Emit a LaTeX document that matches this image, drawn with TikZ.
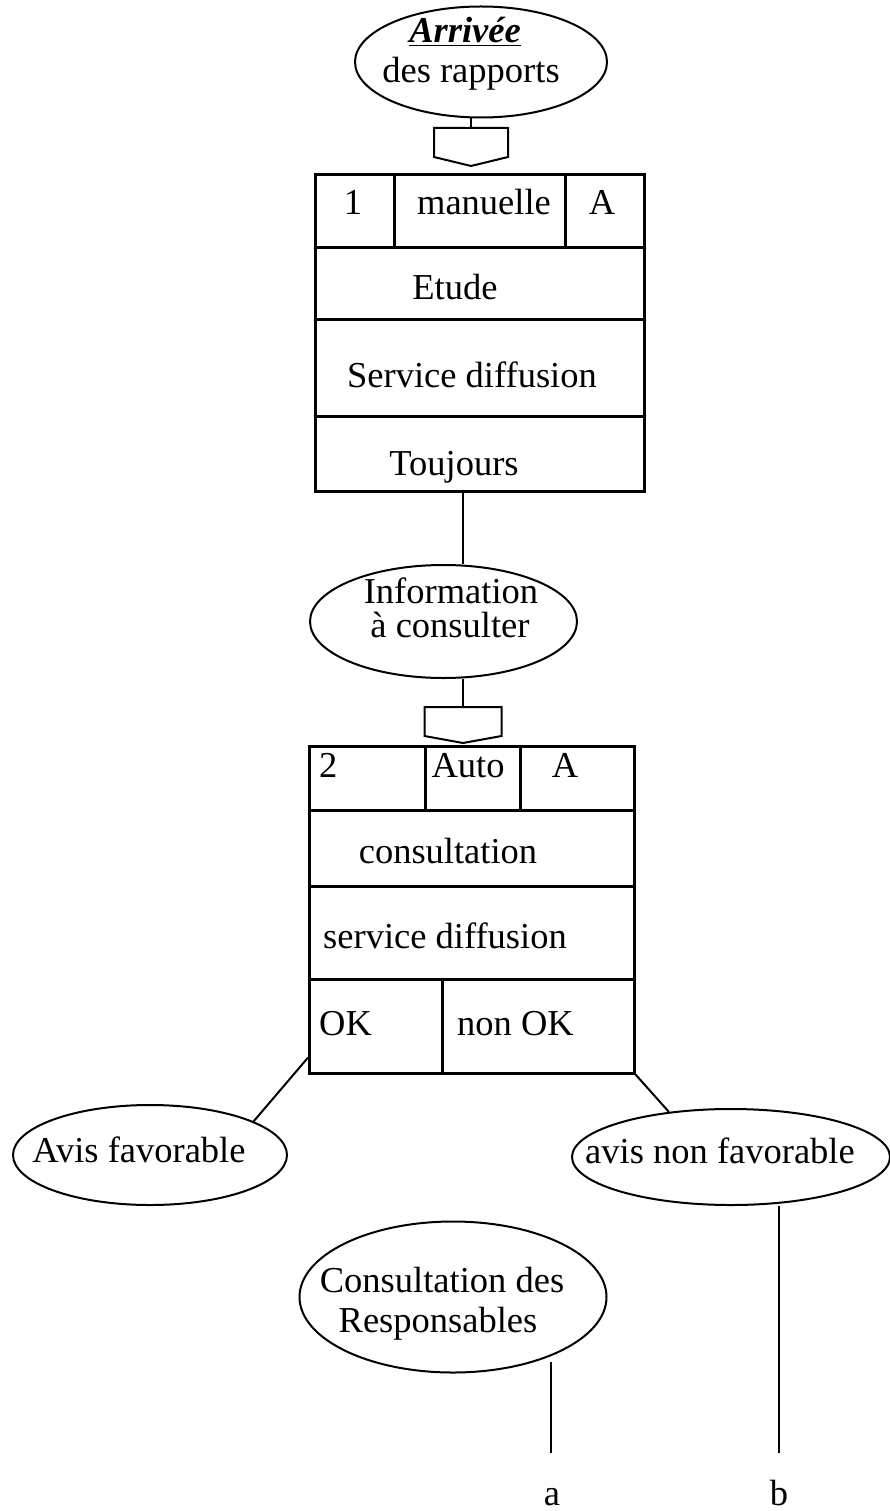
\documentclass[tikz,border=0pt]{standalone}
\usepackage{fontspec}
\setmainfont{Liberation Serif}
\usetikzlibrary{shapes.geometric}
\newcommand\diagfont{\fontsize{36.5}{40}\selectfont}
\begin{document}
\begin{tikzpicture}[x=1pt,y=-1pt,
  cell/.style={draw, line width=2.6pt, inner sep=0pt, anchor=north west},
  txt/.style={font=\diagfont, inner sep=0pt, anchor=base},
  ltxt/.style={txt, anchor=base west},
  lbl/.style={txt, text height=25pt, text depth=0pt, inner ysep=27pt},
  etat/.style={draw, ellipse, line width=2pt, inner sep=0pt},
  link/.style={line width=2pt},
  tab/.style={line width=2pt, line join=miter}]
\useasboundingbox (0,0) rectangle (890,1511);

% ---- event: arrival of the reports
\node[etat, minimum width=252pt, minimum height=111pt] (arr) at (481,62) {};
\node[txt] (arr1) at (465,43) {\underline{\bfseries\itshape Arrivée}};
\node[txt] (arr2) at (471,83) {des rapports};

% synchronisation tab of operation 1
\coordinate (t1) at (471,128);
\draw[tab] (t1) ++(-37,0) -- ++(0,29) -- ++(37,9) -- ++(37,-9) -- ++(0,-29) -- cycle;

% ---- operation 1
\node[cell, minimum width=79pt,  minimum height=73pt] (c1n) at (314,173) {};
\node[cell, minimum width=171pt, minimum height=73pt] (c1m) at (393,173) {};
\node[cell, minimum width=79pt,  minimum height=73pt] (c1a) at (564,173) {};
\node[cell, minimum width=329pt, minimum height=72pt] (c1e) at (314,246) {};
\node[cell, minimum width=329pt, minimum height=97pt] (c1s) at (314,318) {};
\node[cell, minimum width=329pt, minimum height=75pt] (c1t) at (314,415) {};

\node[txt] (x1n) at (353,215) {1};
\node[txt] (x1m) at (484,215) {manuelle};
\node[txt] (x1a) at (602,215) {A};
\node[txt] (x1e) at (455,300) {Etude};
\node[txt] (x1s) at (472,387) {Service diffusion};
\node[txt] (x1t) at (454,475) {Toujours};

% ---- event: information to consult
\node[etat, minimum width=267pt, minimum height=113pt] (info) at (443.5,621.5) {};
\node[txt] (info1) at (451,603) {Information};
\node[txt] (info2) at (450,637) {à consulter};

% synchronisation tab of operation 2
\coordinate (t2) at (463,707);
\draw[tab] (t2) ++(-38.5,0) -- ++(0,29) -- ++(38.5,7) -- ++(38.5,-7) -- ++(0,-29) -- cycle;

% ---- operation 2
\node[cell, minimum width=116pt, minimum height=64pt] (c2n) at (308,745) {};
\node[cell, minimum width=95pt,  minimum height=64pt] (c2m) at (424,745) {};
\node[cell, minimum width=114pt, minimum height=64pt] (c2a) at (519,745) {};
\node[cell, minimum width=325pt, minimum height=76pt] (c2e) at (308,809) {};
\node[cell, minimum width=325pt, minimum height=93pt] (c2s) at (308,885) {};
\node[cell, minimum width=133pt, minimum height=94pt] (c2ok) at (308,978) {};
\node[cell, minimum width=192pt, minimum height=94pt] (c2nok) at (441,978) {};

\node[ltxt] (x2n) at (319,777) {2};
\node[txt] (x2m) at (468,777) {Auto};
\node[txt] (x2a) at (565,777) {A};
\node[txt] (x2e) at (448,863) {consultation};
\node[ltxt] (x2s) at (323,948) {service diffusion};
\node[ltxt] (x2ok) at (319,1035) {OK};
\node[ltxt] (x2nok) at (457,1035) {non OK};

% ---- resulting events
\node[etat, minimum width=274pt, minimum height=100pt] (fav) at (150,1155) {};
\node[txt] (fav1) at (139,1162) {Avis favorable};
\node[etat, minimum width=318pt, minimum height=96pt] (nfav) at (731,1157) {};
\node[txt] (nfav1) at (720,1163) {avis non favorable};
\node[etat, minimum width=307pt, minimum height=151pt] (cons) at (453,1297) {};
\node[txt] (cons1) at (442,1292) {Consultation des};
\node[txt] (cons2) at (438,1332) {Responsables};

% ---- continuation labels
\node[lbl] (la) at (552,1505) {a};
\node[lbl] (lb) at (779,1505) {b};
\coordinate (ca) at (551,1362);

% ---- connectors
\draw[link] (arr.south -| t1) -- (t1);
\draw[link] (c1t.south -| t2) -- (info.north -| t2);
\draw[link] (info.south -| t2) -- (t2);
\draw[link] ([yshift=17pt]c2ok.south west) -- (fav.18);
\draw[link] (c2nok.south east) -- (nfav.144);
\draw[link] (ca) -- (ca |- la.north);
\draw[link] (nfav.south -| lb.north) -- (lb.north);
\end{tikzpicture}
\end{document}
